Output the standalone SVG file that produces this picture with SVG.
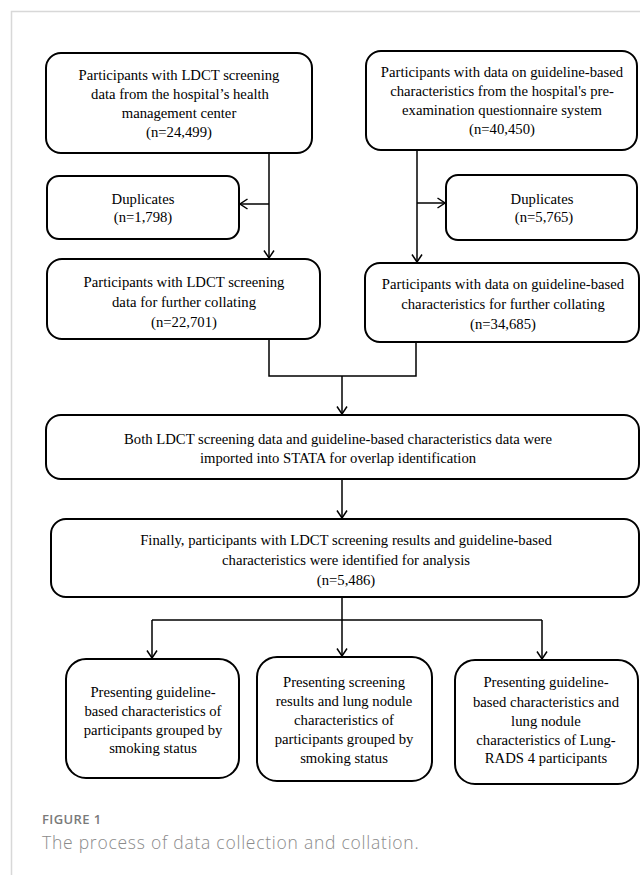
<svg xmlns="http://www.w3.org/2000/svg" width="640" height="875" viewBox="0 0 640 875">
<style>
.box{fill:#fff;stroke:#000;stroke-width:2}
.t{font-family:"Liberation Serif","Times New Roman",serif;font-size:14.7px;fill:#000;text-anchor:middle}
.c{fill:none;stroke:#000;stroke-width:1.5}
.cap1{font-family:"Open Sans","Liberation Sans",sans-serif;font-size:13px;font-weight:600;fill:#7a7a7a;letter-spacing:0.4px}
.cap2{font-family:"Open Sans","Liberation Sans",sans-serif;font-size:17.5px;font-weight:300;fill:#8a8a8a;letter-spacing:0.75px}
</style>
<defs>
<marker id="arr" viewBox="-9 -6 10 12" markerWidth="10" markerHeight="12" refX="0" refY="0" orient="auto" markerUnits="userSpaceOnUse">
<path d="M-7.5,-5 L0,0 L-7.5,5" fill="none" stroke="#000" stroke-width="1.5"/>
</marker>
</defs>
<rect x="0" y="0" width="640" height="875" fill="#fff"/>
<path d="M11.5,875 V11.5 H640" fill="none" stroke="#d8d8d8" stroke-width="1.5"/>

<g id="connectors">
<path class="c" d="M269,153 V258" marker-end="url(#arr)"/>
<path class="c" d="M269,204 H240" marker-end="url(#arr)"/>
<path class="c" d="M417,150 V262" marker-end="url(#arr)"/>
<path class="c" d="M417,203 H445" marker-end="url(#arr)"/>
<path class="c" d="M269,339 V376 H416 V342"/>
<path class="c" d="M342,376 V414" marker-end="url(#arr)"/>
<path class="c" d="M342,479 V518" marker-end="url(#arr)"/>
<path class="c" d="M342,597 V620"/>
<path class="c" d="M152,620 H542"/>
<path class="c" d="M152,620 V658" marker-end="url(#arr)"/>
<path class="c" d="M342,620 V656" marker-end="url(#arr)"/>
<path class="c" d="M542,620 V659" marker-end="url(#arr)"/>
</g>

<g id="n1">
<rect class="box" x="46" y="53" width="266" height="100" rx="15"/>
<text class="t" x="179" y="80">Participants with LDCT screening</text>
<text class="t" x="180" y="99">data from the hospital’s health</text>
<text class="t" x="179" y="118">management center</text>
<text class="t" x="179" y="137">(n=24,499)</text>
</g>
<g id="n2">
<rect class="box" x="366" y="51" width="271" height="99" rx="15"/>
<text class="t" x="502" y="77">Participants with data on guideline-based</text>
<text class="t" x="502" y="96">characteristics from the hospital's pre-</text>
<text class="t" x="502" y="115">examination questionnaire system</text>
<text class="t" x="502" y="134">(n=40,450)</text>
</g>
<g id="n3">
<rect class="box" x="47" y="176" width="192" height="63" rx="12"/>
<text class="t" x="143" y="204">Duplicates</text>
<text class="t" x="143" y="222">(n=1,798)</text>
</g>
<g id="n4">
<rect class="box" x="446" y="175" width="191" height="65" rx="12"/>
<text class="t" x="542" y="204">Duplicates</text>
<text class="t" x="544" y="222">(n=5,765)</text>
</g>
<g id="n5">
<rect class="box" x="47" y="259" width="273" height="80" rx="15"/>
<text class="t" x="184" y="287">Participants with LDCT screening</text>
<text class="t" x="184" y="307">data for further collating</text>
<text class="t" x="184" y="327">(n=22,701)</text>
</g>
<g id="n6">
<rect class="box" x="365" y="263" width="274" height="79" rx="15"/>
<text class="t" x="503" y="289">Participants with data on guideline-based</text>
<text class="t" x="503" y="309">characteristics for further collating</text>
<text class="t" x="503" y="329">(n=34,685)</text>
</g>
<g id="n7">
<rect class="box" x="46" y="415" width="593" height="64" rx="15"/>
<text class="t" x="338" y="444">Both LDCT screening data and guideline-based characteristics data were</text>
<text class="t" x="338" y="463">imported into STATA for overlap identification</text>
</g>
<g id="n8">
<rect class="box" x="51" y="519" width="588" height="78" rx="15"/>
<text class="t" x="346" y="545">Finally, participants with LDCT screening results and guideline-based</text>
<text class="t" x="346" y="565">characteristics were identified for analysis</text>
<text class="t" x="346" y="585">(n=5,486)</text>
</g>
<g id="n9">
<rect class="box" x="66" y="659" width="173" height="119" rx="20"/>
<text class="t" x="153" y="697">Presenting guideline-</text>
<text class="t" x="153" y="716">based characteristics of</text>
<text class="t" x="153" y="735">participants grouped by</text>
<text class="t" x="153" y="753">smoking status</text>
</g>
<g id="n10">
<rect class="box" x="257" y="657" width="175" height="124" rx="20"/>
<text class="t" x="344" y="687">Presenting screening</text>
<text class="t" x="344" y="706">results and lung nodule</text>
<text class="t" x="344" y="725">characteristics of</text>
<text class="t" x="344" y="744">participants grouped by</text>
<text class="t" x="344" y="763">smoking status</text>
</g>
<g id="n11">
<rect class="box" x="455" y="660" width="183" height="124" rx="20"/>
<text class="t" x="546" y="687">Presenting guideline-</text>
<text class="t" x="546" y="707">based characteristics and</text>
<text class="t" x="546" y="726">lung nodule</text>
<text class="t" x="546" y="745">characteristics of Lung-</text>
<text class="t" x="546" y="763">RADS 4 participants</text>
</g>

<text class="cap1" x="42" y="824">FIGURE 1</text>
<text class="cap2" x="42" y="849">The process of data collection and collation.</text>
</svg>
